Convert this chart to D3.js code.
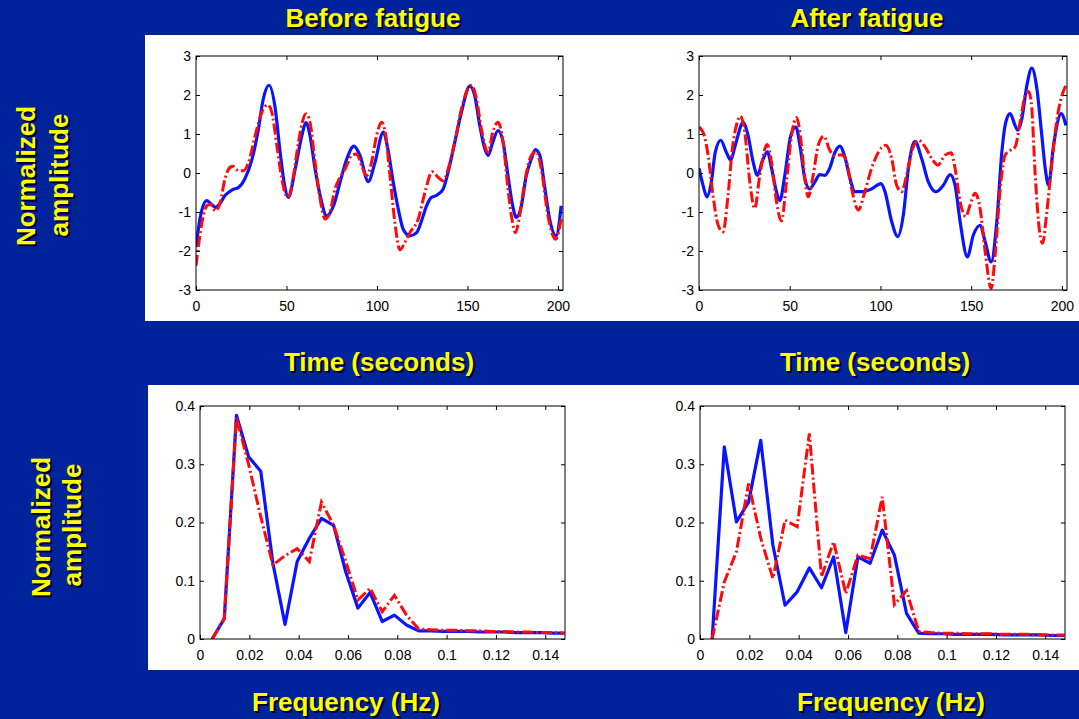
<!DOCTYPE html>
<html>
<head>
<meta charset="utf-8">
<script src="https://cdn.jsdelivr.net/npm/d3@7"></script>
<style>
  body { margin: 0; background: #00239b; }
  svg { display: block; }
</style>
</head>
<body>
<svg id="chart" width="1079" height="719"></svg>
<script>
// tick values and labels
const timeTicks = [0, 50, 100, 150, 200];
const ampTicks = [-3, -2, -1, 0, 1, 2, 3];
const freqTicks = [0, 0.02, 0.04, 0.06, 0.08, 0.1, 0.12, 0.14];
const freqTickLabels = ["0", "0.02", "0.04", "0.06", "0.08", "0.1", "0.12", "0.14"];
const specTicks = [0, 0.1, 0.2, 0.3, 0.4];
const specTickLabels = ["0", "0.1", "0.2", "0.3", "0.4"];

// time signals [seconds, normalized amplitude]
const beforeBlue = [[0,-1.9],[2.5,-1.1],[6,-0.71],[8.5,-0.8],[10.7,-0.88],[13,-0.8],[16,-0.58],[20,-0.43],[23.5,-0.37],[27,-0.15],[31,0.36],[34.5,1.13],[37,1.86],[40.4,2.25],[43.8,1.65],[46.5,0.53],[49,-0.33],[51,-0.63],[54.8,0.1],[58.5,0.96],[60.7,1.29],[63,0.96],[65.8,0.1],[68.6,-0.58],[72.2,-1.1],[76,-0.84],[79.6,-0.24],[83.3,0.36],[87.3,0.69],[90.6,0.45],[95.2,-0.22],[98.9,0.27],[103.5,1.05],[106,0.62],[109,-0.24],[111.8,-0.93],[114.5,-1.44],[118.2,-1.61],[121.9,-1.53],[124.6,-1.23],[127.4,-0.84],[130,-0.63],[133,-0.57],[136.6,-0.41],[139.3,0.02],[143,0.79],[146.7,1.56],[151.3,2.23],[154,1.99],[156.8,1.22],[159.6,0.62],[161.4,0.45],[164,0.79],[166.9,1.09],[169.7,0.79],[172.4,-0.07],[175,-0.84],[177,-1.14],[179.8,-0.84],[182.5,-0.07],[185.3,0.36],[187.5,0.6],[190,0.45],[192.6,-0.33],[195.4,-1.18],[199,-1.61],[201.8,-0.84]];
const beforeRed = [[0,-2.38],[3.3,-1.27],[6,-0.84],[8,-0.8],[10.7,-0.97],[13.4,-0.75],[16,-0.15],[19,0.15],[20.5,0.17],[23.5,0.06],[26.3,0.06],[29,0.27],[32.7,0.96],[36.4,1.56],[39.7,1.75],[41.9,1.56],[44.7,0.7],[47.4,-0.15],[50.7,-0.63],[53.9,-0.07],[56.6,0.79],[60.8,1.52],[63,1.3],[65.8,0.27],[68.6,-0.67],[71.3,-1.18],[74,-1.01],[76.8,-0.41],[79.6,-0.11],[82.4,0.1],[86,0.45],[88.8,0.49],[91.5,0.19],[94.3,-0.07],[97,0.27],[99.8,0.96],[102.6,1.3],[104.4,1.09],[107.2,-0.07],[109.9,-1.27],[112.7,-1.97],[115.4,-1.78],[118.2,-1.53],[122.8,-1.18],[126.5,-0.5],[130.5,0.03],[133.8,-0.11],[136.6,-0.2],[139.3,0.1],[143,0.79],[146.7,1.65],[152.2,2.25],[155,1.9],[157.7,1.13],[161.4,0.53],[164,1.05],[166.9,1.3],[169.7,0.79],[172.4,-0.41],[174.3,-1.1],[176.5,-1.53],[178.8,-1.1],[181.6,-0.24],[185.3,0.45],[188,0.55],[190.8,0.1],[194.5,-1.1],[198.7,-1.7],[201.8,-1.18]];
const afterBlue = [[0,0.12],[2.2,-0.31],[4.4,-0.61],[6.8,-0.23],[9,0.54],[12,0.84],[15,0.54],[17.5,0.33],[20,0.71],[24.3,1.29],[27,0.97],[29.8,0.29],[32.2,-0.06],[34.8,0.29],[37.7,0.54],[40,0.12],[42.7,-0.48],[44.5,-0.71],[47.3,-0.06],[50.6,0.97],[53.4,1.18],[55.6,0.71],[58.3,-0.14],[61,-0.41],[63.8,-0.23],[66.6,-0.04],[69.4,-0.06],[72,0.12],[75,0.54],[77.6,0.69],[80.4,0.41],[83.2,-0.14],[86,-0.48],[89.6,-0.48],[95,-0.41],[100.3,-0.27],[102.5,-0.48],[106.2,-1.25],[109.5,-1.63],[112.6,-1.08],[115.4,0.12],[119,0.81],[122.7,0.37],[126.4,-0.23],[130.5,-0.48],[134.7,-0.31],[138.4,-0.04],[141.1,-0.31],[143.9,-1.25],[147.9,-2.15],[151.2,-1.59],[154.9,-1.34],[157.7,-1.76],[161,-2.28],[164.1,-1.25],[166.9,0.54],[169.1,1.31],[171.5,1.52],[174.2,1.22],[175.7,1.1],[177.9,1.39],[180.7,2.25],[183.4,2.69],[186.2,2.16],[188.9,0.97],[190.8,0.12],[192.6,-0.31],[195.4,0.71],[199.6,1.52],[202.2,1.22]];
const afterRed = [[0,1.18],[2.8,0.97],[5,0.46],[7.7,-0.57],[10.5,-1.33],[13.2,-1.51],[16,-0.57],[18.4,0.63],[20.6,1.22],[22.8,1.46],[25.2,1.05],[28,-0.23],[30.7,-0.91],[33.5,-0.06],[37.5,0.73],[39.9,0.29],[42.7,-0.74],[45.4,-1.23],[48.2,-0.23],[51,0.97],[53.7,1.42],[56.5,0.71],[58.3,-0.14],[60.2,-0.61],[62.9,-0.06],[65.7,0.71],[68.8,0.94],[72.1,0.58],[74.9,0.44],[78.6,0.47],[81.3,0.29],[84.1,-0.4],[87.8,-0.95],[91.4,-0.48],[95.1,0.12],[102.9,0.71],[106.2,0.37],[108.9,-0.31],[111.7,-0.48],[114.4,-0.06],[117.2,0.54],[120.9,0.84],[124.6,0.67],[128.3,0.37],[131.6,0.2],[135.6,0.46],[138.9,0.52],[141.1,0.12],[143.9,-0.74],[147,-1.12],[149.4,-0.82],[152.2,-0.52],[154.9,-0.91],[157.7,-2.02],[161,-2.96],[163.2,-2.1],[166,-0.4],[168.7,0.46],[171.5,0.58],[174.2,0.67],[177,1.31],[179.8,1.99],[181.6,2.09],[183.1,1.82],[185.3,-0.06],[187.1,-1.25],[189.3,-1.8],[191.7,-0.99],[194.5,0.29],[197.3,1.39],[200,1.99],[202.2,2.25]];

// spectra
const freqs = [0.00493,0.00985,0.01478,0.0197,0.02463,0.02956,0.03448,0.03941,0.04433,0.04926,0.05419,0.05911,0.06404,0.06897,0.07389,0.07882,0.08374,0.08867,0.0936,0.09852,0.10345,0.10837,0.1133,0.11823,0.12315,0.12808,0.133,0.13793,0.14286,0.14778];
const specBeforeBlue = [0,0.035,0.384,0.313,0.288,0.13,0.025,0.133,0.173,0.207,0.195,0.115,0.053,0.08,0.03,0.041,0.024,0.014,0.014,0.013,0.013,0.013,0.012,0.012,0.012,0.011,0.011,0.011,0.010,0.010];
const specBeforeRed = [0,0.035,0.38,0.3,0.21,0.127,0.143,0.155,0.133,0.235,0.195,0.133,0.067,0.087,0.047,0.075,0.041,0.017,0.016,0.015,0.015,0.014,0.014,0.013,0.013,0.012,0.012,0.011,0.011,0.010];
const specAfterBlue = [0,0.33,0.201,0.235,0.341,0.161,0.058,0.081,0.122,0.088,0.141,0.011,0.141,0.13,0.187,0.144,0.044,0.01,0.009,0.009,0.008,0.008,0.008,0.008,0.007,0.007,0.007,0.007,0.006,0.006];
const specAfterRed = [0,0.098,0.15,0.267,0.173,0.104,0.204,0.193,0.353,0.107,0.167,0.078,0.144,0.138,0.244,0.059,0.083,0.013,0.011,0.010,0.010,0.009,0.009,0.009,0.008,0.008,0.008,0.007,0.007,0.007];

const svg = d3.select('#chart');
const FONT = '"Liberation Sans", Arial, Helvetica, sans-serif';

svg.append('rect').attr('x', 145).attr('y', 35).attr('width', 934).attr('height', 286).attr('fill', '#fff');
svg.append('rect').attr('x', 148).attr('y', 385).attr('width', 931).attr('height', 285).attr('fill', '#fff');

let clipId = 0;
function panel(box, xDomain, yDomain, xt, xl, yt, yl, blue, red, smooth) {
  const x = d3.scaleLinear().domain(xDomain).range([box.l, box.r]);
  const y = d3.scaleLinear().domain(yDomain).range([box.b, box.t]);
  const g = svg.append('g');
  const id = 'clip' + (clipId++);
  g.append('clipPath').attr('id', id).append('rect')
    .attr('x', box.l).attr('y', box.t).attr('width', box.r - box.l).attr('height', box.b - box.t);

  const line = d3.line().x(d => x(d[0])).y(d => y(d[1]));
  if (smooth) line.curve(d3.curveMonotoneX);

  g.append('path').datum(blue).attr('d', line).attr('clip-path', `url(#${id})`)
    .attr('fill', 'none').attr('stroke', '#0a14ff').attr('stroke-width', 3.2).attr('stroke-linejoin', 'round');
  g.append('path').datum(red).attr('d', line).attr('clip-path', `url(#${id})`)
    .attr('fill', 'none').attr('stroke', '#ff0a0a').attr('stroke-width', 3)
    .attr('stroke-dasharray', '11,3,2,3');

  g.append('g').attr('transform', `translate(0,${box.b})`)
    .call(d3.axisBottom(x).tickValues(xt).tickFormat((d, i) => xl[i]).tickSizeInner(-4).tickSizeOuter(0).tickPadding(11));
  g.append('g').attr('transform', `translate(${box.l},0)`)
    .call(d3.axisLeft(y).tickValues(yt).tickFormat((d, i) => yl[i]).tickSizeInner(-4).tickSizeOuter(0).tickPadding(5));
  g.append('g').attr('transform', `translate(0,${box.t})`)
    .call(d3.axisTop(x).tickValues(xt).tickFormat('').tickSizeInner(-4).tickSizeOuter(0));
  g.append('g').attr('transform', `translate(${box.r},0)`)
    .call(d3.axisRight(y).tickValues(yt).tickFormat('').tickSizeInner(-4).tickSizeOuter(0));
  g.selectAll('.domain').remove();
  g.selectAll('.tick line').attr('stroke', '#000');
  g.selectAll('.tick text').attr('fill', '#000').style('font-family', FONT).style('font-size', '14px');
  g.append('rect').attr('x', box.l).attr('y', box.t).attr('width', box.r - box.l).attr('height', box.b - box.t)
    .attr('fill', 'none').attr('stroke', '#000').attr('stroke-width', 1);
}

const timeLabels = timeTicks.map(String);
const ampLabels = ampTicks.map(String);
panel({l: 196, r: 563, t: 56, b: 290}, [0, 202.8], [-3, 3], timeTicks, timeLabels, ampTicks, ampLabels, beforeBlue, beforeRed, true);
panel({l: 699, r: 1067, t: 56, b: 290}, [0, 202.8], [-3, 3], timeTicks, timeLabels, ampTicks, ampLabels, afterBlue, afterRed, true);

const zip = vals => freqs.map((f, i) => [f, vals[i]]);
panel({l: 200, r: 565, t: 406, b: 639}, [0, 0.148], [0, 0.4], freqTicks, freqTickLabels, specTicks, specTickLabels, zip(specBeforeBlue), zip(specBeforeRed), false);
panel({l: 700, r: 1065, t: 406, b: 639}, [0, 0.148], [0, 0.4], freqTicks, freqTickLabels, specTicks, specTickLabels, zip(specAfterBlue), zip(specAfterRed), false);

// yellow labels with dark shadow
function label(txt, x, y, rotate) {
  [['#000028', 2], ['#ffff00', 0]].forEach(([c, o]) => {
    svg.append('text')
      .attr('transform', `translate(${x + o},${y + o})` + (rotate ? ' rotate(-90)' : ''))
      .attr('text-anchor', 'middle')
      .attr('fill', c)
      .style('font-family', FONT).style('font-weight', 'bold').style('font-size', '26px')
      .text(txt);
  });
}
label('Before fatigue', 373, 27);
label('After fatigue', 867, 27);
label('Time (seconds)', 379, 371);
label('Time (seconds)', 875, 371);
label('Frequency (Hz)', 346, 711);
label('Frequency (Hz)', 891, 711);
label('Normalized', 35, 176, true);
label('amplitude', 68, 175, true);
label('Normalized', 50, 527, true);
label('amplitude', 81, 525, true);
</script>
</body>
</html>
